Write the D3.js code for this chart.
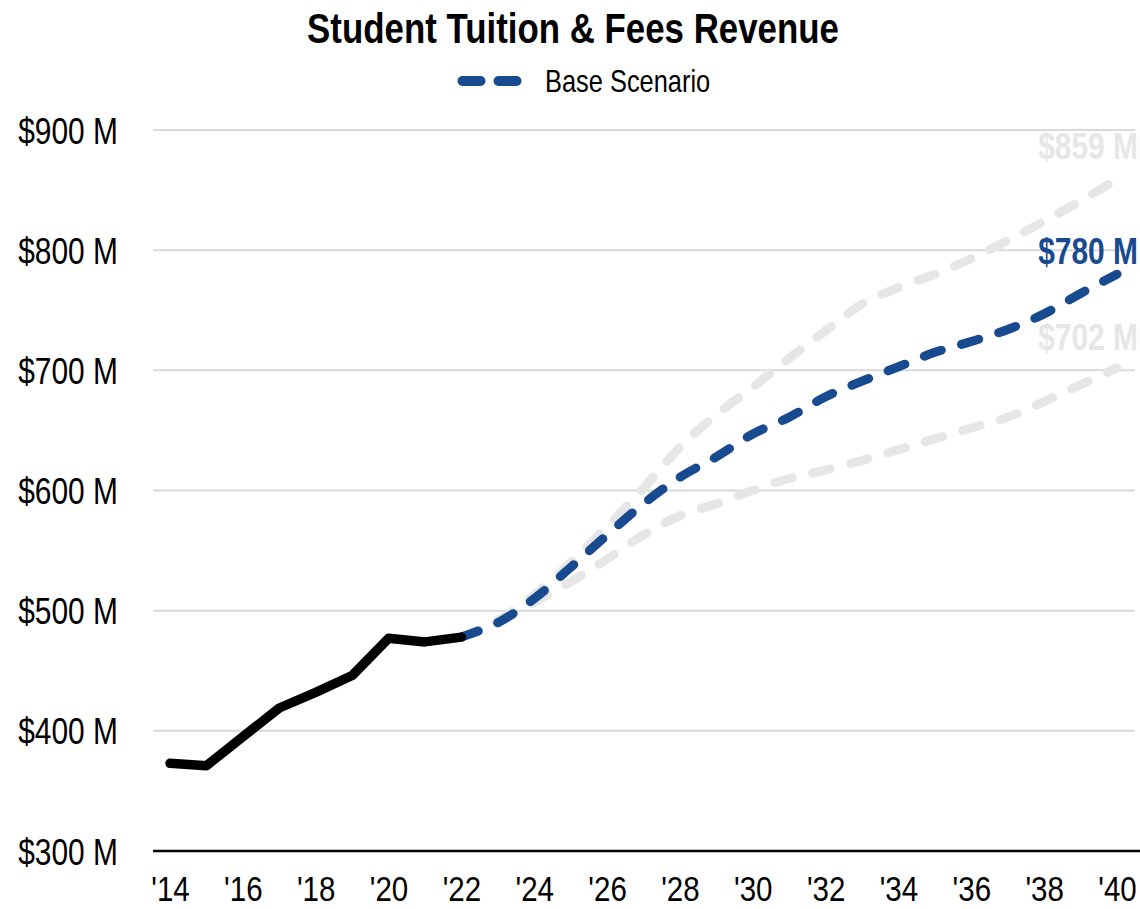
<!DOCTYPE html>
<html>
<head>
<meta charset="utf-8">
<script src="https://cdn.jsdelivr.net/npm/d3@7"></script>
<style>
  html, body { margin: 0; padding: 0; background: #fff; }
  svg text { font-family: "Liberation Sans", Arial, sans-serif; }
</style>
</head>
<body>
<svg id="chart" width="1140" height="909"></svg>
<script>
// Historical actuals, fiscal years 2014–2022 ($M)
const histYears = [2014, 2015, 2016, 2017, 2018, 2019, 2020, 2021, 2022];
const histValues = [373, 371, 395, 419, 432, 446, 477, 474, 478];

// Projection years 2022–2040
const projYears = [2022, 2023, 2024, 2025, 2026, 2027, 2028, 2029, 2030, 2031,
                   2032, 2033, 2034, 2035, 2036, 2037, 2038, 2039, 2040];
const baseValues = [478, 490, 510, 536, 563, 589, 611, 628, 647, 661,
                    678, 691, 703, 715, 724, 734, 747, 764, 780];
const highValues = [478, 492, 513, 540, 570, 602, 636, 663, 686, 710,
                    733, 755, 769, 780, 793, 808, 824, 841, 859];
const lowValues  = [478, 491, 507, 524, 543, 563, 579, 589, 600, 610,
                    617, 625, 634, 643, 652, 661, 674, 688, 702];

const yTicks = [300, 400, 500, 600, 700, 800, 900];
const xTicks = [2014, 2016, 2018, 2020, 2022, 2024, 2026, 2028, 2030, 2032, 2034, 2036, 2038, 2040];

const BLUE = "#174a8e";
const GRAY = "#e6e6e6";
// Condensed look: regular sans face squeezed horizontally
const NARROW = "scale(0.82,1)";

const svg = d3.select("#chart");

const x = d3.scaleLinear().domain([2014, 2040]).range([170, 1117]);
const y = d3.scaleLinear().domain([300, 900]).range([851, 130]);

// Horizontal gridlines
svg.append("g")
  .selectAll("line")
  .data(yTicks.filter(d => d !== 300))
  .join("line")
  .attr("x1", 153).attr("x2", 1135)
  .attr("y1", d => y(d)).attr("y2", d => y(d))
  .attr("stroke", "#d9d9d9").attr("stroke-width", 2);

// Y axis labels
const yAxis = d3.axisLeft(y).tickValues(yTicks).tickSize(0).tickPadding(0)
  .tickFormat(d => `$${d} M`);
svg.append("g")
  .attr("transform", "translate(118,0)")
  .call(yAxis)
  .call(g => g.select(".domain").remove())
  .call(g => g.selectAll("text")
    .attr("x", 0).attr("dy", "0.36em")
    .attr("transform", NARROW)
    .attr("font-size", 36.5).attr("fill", "#000")
    .style("font-family", '"Liberation Sans", Arial, sans-serif'));

// X axis labels and baseline
const xAxis = d3.axisBottom(x).tickValues(xTicks).tickSize(0).tickPadding(0)
  .tickFormat(d => "'" + String(d).slice(2));
svg.append("g")
  .attr("transform", `translate(0,${y(300)})`)
  .call(xAxis)
  .call(g => g.select(".domain").remove())
  .call(g => g.selectAll("text")
    .attr("y", 50).attr("dy", 0)
    .attr("transform", NARROW)
    .attr("font-size", 36).attr("fill", "#000")
    .style("font-family", '"Liberation Sans", Arial, sans-serif'));
svg.append("line")
  .attr("x1", 153).attr("x2", 1140)
  .attr("y1", y(300)).attr("y2", y(300))
  .attr("stroke", "#000").attr("stroke-width", 2.5);

const smooth = d3.line().x(d => x(d[0])).y(d => y(d[1])).curve(d3.curveCatmullRom.alpha(0.5));
const zip = (xs, vs) => xs.map((d, i) => [d, vs[i]]);

// Alternate scenarios (light gray dashed)
[highValues, lowValues].forEach(vals => {
  svg.append("path")
    .datum(zip(projYears, vals))
    .attr("d", smooth)
    .attr("fill", "none")
    .attr("stroke", GRAY)
    .attr("stroke-width", 9)
    .attr("stroke-linecap", "round")
    .attr("stroke-dasharray", "18 21");
});

// Base scenario (blue dashed)
svg.append("path")
  .datum(zip(projYears, baseValues))
  .attr("d", smooth)
  .attr("fill", "none")
  .attr("stroke", BLUE)
  .attr("stroke-width", 9)
  .attr("stroke-linecap", "round")
  .attr("stroke-dasharray", "18 21");

// Historical actuals (solid black)
svg.append("path")
  .datum(zip(histYears, histValues))
  .attr("d", d3.line().x(d => x(d[0])).y(d => y(d[1])))
  .attr("fill", "none")
  .attr("stroke", "#000")
  .attr("stroke-width", 9.5)
  .attr("stroke-linecap", "round")
  .attr("stroke-linejoin", "round");

// End-of-series value labels
const endLabels = [
  { v: highValues[highValues.length - 1], color: GRAY, dy: -20 },
  { v: baseValues[baseValues.length - 1], color: BLUE, dy: -10 },
  { v: lowValues[lowValues.length - 1], color: GRAY, dy: -18 }
];
svg.append("g")
  .selectAll("text")
  .data(endLabels)
  .join("text")
  .attr("transform", d => `translate(1138,${y(d.v) + d.dy}) ${NARROW}`)
  .attr("text-anchor", "end")
  .attr("font-size", 36.5)
  .attr("font-weight", "bold")
  .attr("fill", d => d.color)
  .text(d => `$${d.v} M`);

// Title
svg.append("text")
  .attr("transform", `translate(573,43) ${NARROW}`)
  .attr("text-anchor", "middle")
  .attr("font-size", 42.5)
  .attr("font-weight", "bold")
  .attr("fill", "#000")
  .text("Student Tuition & Fees Revenue");

// Legend
svg.append("line")
  .attr("x1", 462.5).attr("x2", 518)
  .attr("y1", 81).attr("y2", 81)
  .attr("stroke", BLUE).attr("stroke-width", 10)
  .attr("stroke-linecap", "round")
  .attr("stroke-dasharray", "18 18");
svg.append("text")
  .attr("transform", `translate(545,92) ${NARROW}`)
  .attr("font-size", 31)
  .attr("fill", "#000")
  .text("Base Scenario");
</script>
</body>
</html>
